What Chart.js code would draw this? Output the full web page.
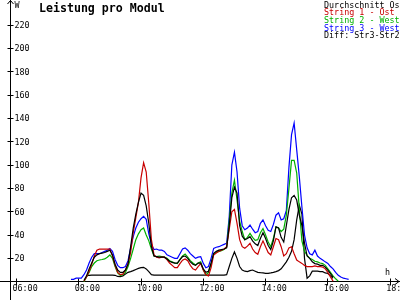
<!DOCTYPE html>
<html>
<head>
<meta charset="utf-8">
<script src="https://cdn.jsdelivr.net/npm/chart.js@4.4.1/dist/chart.umd.min.js"></script>
<style>
    body { margin: 0; background: #ffffff; }
    canvas { display: block; }
</style>
</head>
<body>
<canvas id="leistung-chart" width="400" height="300"></canvas>
<script>
// sample times (5 min)
const times = [
    '07:45','07:50','07:55','08:00','08:05','08:10','08:15','08:20','08:25','08:30',
    '08:35','08:40','08:45','08:50','08:55','09:00','09:05','09:10','09:15','09:20',
    '09:25','09:30','09:35','09:40','09:45','09:50','09:55','10:00','10:05','10:10',
    '10:15','10:20','10:25','10:30','10:35','10:40','10:45','10:50','10:55','11:00',
    '11:05','11:10','11:15','11:20','11:25','11:30','11:35','11:40','11:45','11:50',
    '11:55','12:00','12:05','12:10','12:15','12:20','12:25','12:30','12:35','12:40',
    '12:45','12:50','12:55','13:00','13:05','13:10','13:15','13:20','13:25','13:30',
    '13:35','13:40','13:45','13:50','13:55','14:00','14:05','14:10','14:15','14:20',
    '14:25','14:30','14:35','14:40','14:45','14:50','14:55','15:00','15:05','15:10',
    '15:15','15:20','15:25','15:30','15:35','15:40','15:45','15:50','15:55','16:00',
    '16:05','16:10','16:15','16:20','16:25','16:30','16:35','16:40','16:45'
];

const durchschnitt = [
    null, null, null, null, null, 1, 5, 11, 16, 21,
    23, 24, 24.5, 25, 26, 27, 23, 15, 10, 8,
    8, 10, 15, 30, 46, 58, 68, 76, 74, 65,
    50, 30, 22, 21.5, 21, 21, 21, 19.5, 17.5, 16.5,
    16, 16, 19, 21.5, 22, 20, 17, 15, 14, 16,
    16, 11, 8, 9, 16, 24.3, 26, 27, 27.5, 28,
    29, 48, 72, 81, 76, 48, 39, 36, 37, 38.6,
    35, 32.5, 31, 37, 42, 37, 31, 27.5, 35, 47,
    46, 38, 34, 48, 62, 72, 74, 70, 57, 48,
    33, 22, 20, 17, 15.5, 15, 14, 14, 12.5, 10,
    7, 4, null, null, null, null, null, null, null
];

const string1 = [
    null, null, null, null, null, 0.5, 4, 9, 15, 22,
    27, 28, 28, 28, 28, 28, 22, 14, 8, 6,
    6.5, 10, 15.5, 25, 42, 55, 68, 89, 102, 94,
    67, 36, 23, 21, 20.5, 21, 21, 19, 16, 14,
    12, 12, 15.5, 18.5, 19.5, 18, 14, 11, 10, 13,
    15.5, 10, 6, 5, 12, 22.9, 24.5, 26, 27, 28,
    30, 45, 60, 62, 50, 36, 30, 28.6, 30.5, 32.9,
    28, 25, 23.5, 30, 35, 30, 25, 23, 30, 37,
    36, 30, 22, 24, 29, 30, 24, 18.6, 17, 15.7,
    14, 13, 13, 13, 13.5, 13, 13, 12.5, 11, 8,
    4, 0.5, null, null, null, null, null, null, null
];

const string2 = [
    null, null, null, null, null, 0, 4, 8, 13, 16,
    18, 18.6, 19, 19.5, 21, 22.9, 20, 13, 7.5, 5.5,
    6, 8, 13, 20, 28, 36, 41, 44.5, 46, 40,
    35, 28, 22, 21.5, 22, 21.5, 21, 20, 18, 17,
    16, 15.5, 19, 22, 23.7, 21, 18, 16, 14.3, 16,
    17, 10, 6, 8, 15, 24, 25, 26, 26.5, 27.5,
    29.5, 52, 76, 87, 70, 52, 43, 36, 38, 41.4,
    38, 35.5, 36, 42, 45.5, 40, 34, 30, 37, 47,
    46, 43, 45, 57, 80, 104, 104, 93, 62, 35,
    26, 22.5, 20, 19, 17.5, 17, 16, 15.5, 14, 11,
    8, 5, 2.5, 0.5, null, null, null, null, null
];

const string3 = [
    2, 2, 3, 3, 3, 6, 10, 16, 21, 24,
    24, 24, 25, 26, 27, 28.5, 26, 19, 14, 12,
    12, 13, 18, 29, 38.6, 46, 51, 54, 56, 53.5,
    41, 32, 27.5, 28, 27, 27, 26, 23, 22, 21,
    20, 20, 24, 28, 29, 27, 24, 22, 20, 21,
    21.5, 15.7, 12, 13, 20, 28.6, 29.5, 30, 31, 32,
    33, 56, 100, 111, 94, 63, 48, 44.5, 46, 48.6,
    45, 42, 43, 50, 53, 48, 44, 43, 49, 57,
    59, 53, 54, 61, 98, 126, 136, 113, 90, 64,
    40, 29, 24, 23, 27, 22, 20, 18.6, 17, 15.7,
    13, 11, 8, 5.5, 4, 3, 2.5, 2, null
];

const diffStr3Str2 = [
    null, null, null, null, null, null, 5, 5.5, 5.7, 5.7,
    5.7, 5.7, 5.7, 5.7, 5.7, 5.7, 5.7, 5.5, 4.5, 4.3,
    5, 6.5, 8, 8.6, 9.5, 10.5, 11.4, 12, 12.3, 11,
    8.6, 6, 5.7, 5.7, 5.7, 5.7, 5.7, 5.7, 5.7, 5.7,
    5.7, 5.7, 5.7, 5.7, 5.7, 5.7, 5.7, 5.7, 5.7, 5.7,
    5.7, 5.7, 5.7, 5.7, 5.7, 5.7, 5.7, 5.7, 5.7, 5.7,
    6, 13, 20, 25.5, 20, 13, 10, 9, 8.6, 9.5,
    10, 9, 8, 7.7, 7.5, 7.2, 7.1, 7.5, 8, 8.6,
    9.5, 11, 14, 17, 21, 26, 36, 53, 65.7, 58,
    20, 3, 5, 9, 9, 9, 8.6, 8.6, 7.5, 7,
    5, 3, null, null, null, null, null, null, null
];

const xTickLabels = ['06:00', '08:00', '10:00', '12:00', '14:00', '16:00', '18:00'];
const yTickValues = [20, 40, 60, 80, 100, 120, 140, 160, 180, 200, 220];

function toHours(t) {
    const parts = t.split(':');
    return parseInt(parts[0]) + parseInt(parts[1]) / 60;
}

function toPoints(values) {
    return times.map((t, i) => ({x: toHours(t), y: values[i]}));
}

const smallFont = '8.4px "DejaVu Sans Mono", "Liberation Mono", monospace';
const yAxisAt = 5.81; // hour where the y axis crosses

const axesPlugin = {
    id: 'axes',
    beforeDatasetsDraw(chart) {
        const ctx = chart.ctx;
        const xs = chart.scales.x;
        const ys = chart.scales.y;
        const ax = Math.floor(xs.getPixelForValue(yAxisAt)) + 0.5;
        const ay = Math.floor(ys.getPixelForValue(0)) + 0.5;
        const w = chart.width;
        const h = chart.height;
        ctx.save();
        ctx.strokeStyle = '#000';
        ctx.lineWidth = 1;
        ctx.beginPath();
        ctx.moveTo(ax, h); ctx.lineTo(ax, 0);
        ctx.moveTo(ax - 3, 4); ctx.lineTo(ax, 0.5); ctx.lineTo(ax + 3, 4);
        ctx.moveTo(0, ay); ctx.lineTo(w, ay);
        ctx.moveTo(w - 5, ay - 3); ctx.lineTo(w - 1, ay); ctx.lineTo(w - 5, ay + 3);
        for (const v of yTickValues) {
            const py = Math.floor(ys.getPixelForValue(v)) + 0.5;
            ctx.moveTo(ax - 3, py); ctx.lineTo(ax + 3, py);
        }
        for (const lbl of xTickLabels) {
            const px = Math.floor(xs.getPixelForValue(toHours(lbl))) + 0.5;
            ctx.moveTo(px, ay - 3); ctx.lineTo(px, ay + 4);
        }
        ctx.stroke();

        ctx.fillStyle = '#000';
        ctx.font = smallFont;
        ctx.textBaseline = 'alphabetic';
        ctx.textAlign = 'left';
        for (const v of yTickValues) {
            const py = ys.getPixelForValue(v);
            ctx.fillText(String(v), ax + 4, py + 3);
        }
        for (const lbl of xTickLabels) {
            const px = xs.getPixelForValue(toHours(lbl));
            ctx.fillText(lbl, px - 4, ay + 9);
        }
        ctx.fillText('W', ax + 4, 7.5);
        ctx.fillText('h', w - 15, ay - 7);
        ctx.restore();
    },
    afterDraw(chart) {
        const ctx = chart.ctx;
        ctx.save();
        ctx.textAlign = 'left';
        ctx.textBaseline = 'alphabetic';
        ctx.fillStyle = '#000';
        ctx.font = 'bold 11.6px "DejaVu Sans Mono", "Liberation Mono", monospace';
        ctx.fillText('Leistung pro Modul', 39, 12);

        ctx.font = smallFont;
        chart.data.datasets.forEach((ds, i) => {
            ctx.fillStyle = ds.borderColor;
            ctx.fillText(ds.label, 324, 7.5 + i * 7.67);
        });
        ctx.restore();
    }
};

const chartData = {
    datasets: [
        { label: 'Durchschnitt Ost', data: toPoints(durchschnitt), borderColor: '#000000' },
        { label: 'String 1 - Ost', data: toPoints(string1), borderColor: '#c80000' },
        { label: 'String 2 - West', data: toPoints(string2), borderColor: '#00b000' },
        { label: 'String 3 - West', data: toPoints(string3), borderColor: '#0000ff' },
        { label: 'Diff: Str3-Str2', data: toPoints(diffStr3Str2), borderColor: '#000000' }
    ]
};

const options = {
    responsive: false,
    animation: false,
    layout: { padding: 0 },
    elements: {
        point: { radius: 0 },
        line: { borderWidth: 1.2, tension: 0 }
    },
    scales: {
        x: { type: 'linear', min: 5.4715, max: 18.3166, display: false },
        y: { type: 'linear', min: -15.69, max: 241.46, display: false }
    },
    plugins: {
        legend: { display: false },
        tooltip: { enabled: false }
    }
};

const canvas = document.getElementById('leistung-chart');
const leistungChart = new Chart(canvas, {
    type: 'line',
    data: chartData,
    options: options,
    plugins: [axesPlugin]
});
</script>
</body>
</html>
